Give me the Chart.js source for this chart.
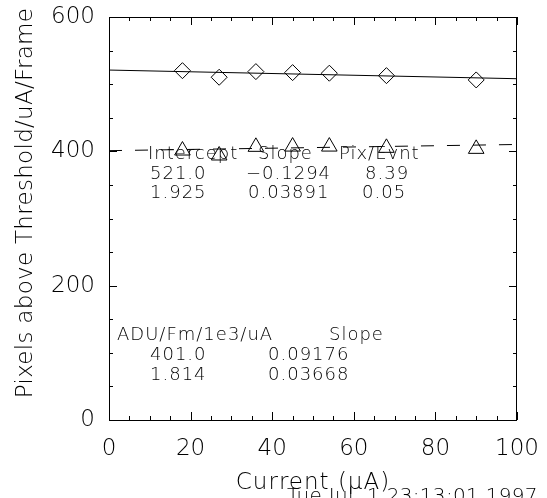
<!DOCTYPE html>
<html>
<head>
<meta charset="utf-8">
<title>Pixels above Threshold vs Current</title>
<script src="https://cdn.jsdelivr.net/npm/chart.js@4.4.1/dist/chart.umd.min.js"></script>
<style>
    body { margin: 0; background: #fff; }
    #chart-wrap { width: 547px; height: 498px; }
</style>
</head>
<body>
<div id="chart-wrap"><canvas id="threshold-chart" width="547" height="498"></canvas></div>
<script>
// Beam current (uA) for each run
const currents = [18, 27, 36, 45, 54, 68, 90];

// Pixels above threshold per uA per frame (diamonds)
const pixelsPerFrame = [520.1, 510.3, 518.7, 517.2, 516.3, 512.7, 506.3];

// ADU per frame per 1e3 per uA (triangles)
const aduPerFrame = [401.2, 393.8, 406.7, 407.1, 407.1, 405.2, 403.7];

// Fitted lines, read at the two ends of the axis
const fitX = [0, 100];
const fitPixels = [521.0, 508.1];
const fitAdu = [401.0, 410.2];

// Axis ranges and tick steps
const xRange = [0, 100];
const yRange = [0, 600];
const xMajorStep = 20;
const xMinorStep = 5;
const yMajorStep = 200;
const yMinorStep = 50;

// Fit result tables printed in the plot
const pixelsTable = [
    ['Intercept', 'Slope', 'Pix/Evnt'],
    ['521.0', '\u22120.1294', '8.39'],
    ['1.925', '0.03891', '0.05']
];
const aduTable = [
    ['ADU/Fm/1e3/uA', 'Slope'],
    ['401.0', '0.09176'],
    ['1.814', '0.03668']
];

const xTitle = 'Current (\u03bcA)';
const yTitle = 'Pixels above Threshold/uA/Frame';
const dateStamp = 'Tue Jul  1 23:13:01 1997';

const FONT = "'DejaVu Sans', sans-serif";
const WEIGHT = '200';

function toPoints(xs, ys) {
    return xs.map((x, i) => ({ x: x, y: ys[i] }));
}

// keep the plot frame exactly where the layout padding puts it
function noLabelPadding(scale) {
    scale.paddingTop = 0;
    scale.paddingBottom = 0;
    scale.paddingLeft = 0;
    scale.paddingRight = 0;
}

// Frame, inward ticks and text drawn on top of the chart
const idlFrame = {
    id: 'idlFrame',
    afterDraw(chart) {
        const ctx = chart.ctx;
        const area = chart.chartArea;
        const xs = chart.scales.x;
        const ys = chart.scales.y;

        ctx.save();
        ctx.strokeStyle = '#000';
        ctx.lineWidth = 1;
        ctx.strokeRect(area.left + 0.5, area.top + 0.5, area.right - area.left - 1, area.bottom - area.top);

        ctx.beginPath();
        for (let v = xRange[0]; v <= xRange[1]; v += xMinorStep) {
            const px = Math.round(xs.getPixelForValue(v)) + 0.5;
            const len = v % xMajorStep === 0 ? 8 : 4;
            ctx.moveTo(px, area.bottom);
            ctx.lineTo(px, area.bottom - len);
            ctx.moveTo(px, area.top);
            ctx.lineTo(px, area.top + len);
        }
        for (let v = yRange[0]; v <= yRange[1]; v += yMinorStep) {
            const py = Math.round(ys.getPixelForValue(v)) + 0.5;
            const len = v % yMajorStep === 0 ? 8 : 4;
            ctx.moveTo(area.left, py);
            ctx.lineTo(area.left + len, py);
            ctx.moveTo(area.right, py);
            ctx.lineTo(area.right - len, py);
        }
        ctx.stroke();

        ctx.fillStyle = '#000';
        ctx.textBaseline = 'alphabetic';
        ctx.textAlign = 'left';

        // fit tables
        ctx.font = WEIGHT + ' 18px ' + FONT;
        ctx.letterSpacing = '1px';
        const topCols = [[148, 258, 339], [150, 246, 365], [150, 248, 362]];
        const topRows = [159, 179, 198];
        pixelsTable.forEach((row, r) => {
            row.forEach((txt, c) => ctx.fillText(txt, topCols[r][c], topRows[r]));
        });
        const botCols = [[117, 329], [150, 268], [150, 268]];
        const botRows = [340, 360, 380];
        aduTable.forEach((row, r) => {
            row.forEach((txt, c) => ctx.fillText(txt, botCols[r][c], botRows[r]));
        });

        // axis titles
        ctx.font = WEIGHT + ' 23px ' + FONT;
        ctx.letterSpacing = '1px';
        ctx.textAlign = 'center';
        ctx.fillText(xTitle, (area.left + area.right) / 2, 489);

        ctx.letterSpacing = '0.3px';
        ctx.save();
        ctx.translate(32, 203);
        ctx.rotate(-Math.PI / 2);
        ctx.fillText(yTitle, 0, 0);
        ctx.restore();

        // date stamp
        ctx.font = WEIGHT + ' 20px ' + FONT;
        ctx.letterSpacing = '0.3px';
        ctx.textAlign = 'left';
        ctx.fillText(dateStamp, 287, 502);
        ctx.restore();
    }
};

const ctx = document.getElementById('threshold-chart').getContext('2d');
const thresholdChart = new Chart(ctx, {
    type: 'scatter',
    data: {
        datasets: [{
            label: 'Pixels/uA/Frame',
            data: toPoints(currents, pixelsPerFrame),
            pointStyle: 'rectRot',
            pointRadius: 8,
            borderColor: '#000',
            backgroundColor: 'rgba(0,0,0,0)',
            borderWidth: 1,
            showLine: false
        }, {
            label: 'ADU/Fm/1e3/uA',
            data: toPoints(currents, aduPerFrame),
            pointStyle: 'triangle',
            pointRadius: 9,
            borderColor: '#000',
            backgroundColor: 'rgba(0,0,0,0)',
            borderWidth: 1,
            showLine: false
        }, {
            label: 'Pixels fit',
            data: toPoints(fitX, fitPixels),
            showLine: true,
            pointRadius: 0,
            borderColor: '#000',
            borderWidth: 1
        }, {
            label: 'ADU fit',
            data: toPoints(fitX, fitAdu),
            showLine: true,
            pointRadius: 0,
            borderColor: '#000',
            borderWidth: 1,
            borderDash: [13, 13]
        }]
    },
    options: {
        responsive: false,
        animation: false,
        layout: {
            padding: { top: 17, right: 30, left: 0, bottom: 0 }
        },
        plugins: {
            legend: { display: false },
            tooltip: { enabled: false }
        },
        scales: {
            x: {
                type: 'linear',
                min: xRange[0],
                max: xRange[1],
                afterFit: (scale) => { scale.height = 78; noLabelPadding(scale); },
                grid: { drawOnChartArea: false, drawTicks: false },
                border: { display: false },
                ticks: {
                    stepSize: xMajorStep,
                    padding: 15,
                    color: '#000',
                    maxRotation: 0,
                    font: { family: FONT, size: 23, weight: WEIGHT }
                }
            },
            y: {
                type: 'linear',
                min: yRange[0],
                max: yRange[1],
                afterFit: (scale) => { scale.width = 109; noLabelPadding(scale); },
                grid: { drawOnChartArea: false, drawTicks: false },
                border: { display: false },
                ticks: {
                    stepSize: yMajorStep,
                    padding: 14,
                    color: '#000',
                    font: { family: FONT, size: 23, weight: WEIGHT }
                }
            }
        }
    },
    plugins: [idlFrame]
});
</script>
</body>
</html>
